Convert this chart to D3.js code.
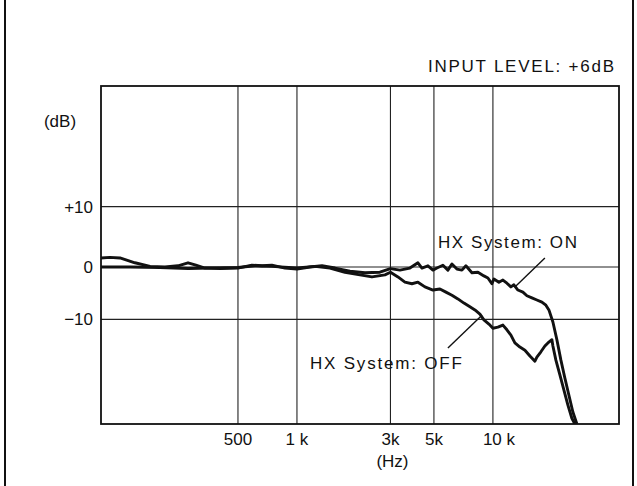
<!DOCTYPE html>
<html>
<head>
<meta charset="utf-8">
<script src="https://cdn.jsdelivr.net/npm/d3@7/dist/d3.min.js"></script>
<style>
  html, body { margin: 0; padding: 0; background: #fff; }
  svg { display: block; }
  text { font-family: "Liberation Sans", Arial, Helvetica, sans-serif; fill: #111; }
</style>
</head>
<body>
<svg id="chart" width="637" height="486"></svg>
<script>
// ---- data ----
const freqTicks = [500, 1000, 3000, 5000, 10000];
const freqTickLabels = ["500", "1 k", "3k", "5k", "10 k"];
const dbTicks = [10, 0, -10];
const dbTickLabels = ["+10", "0", "\u221210"];

const onFreq = [100,111,125,149,178,212,247,278,305,339,405,500,589,663,745,869,1000,1165,1342,1563,1864,2223,2651,3000,3354,3771,4143,4343,4660,4943,5180,5558,5893,6177,6551,6948,7282,7815,8385,8995,9430,9883,10118,10730,11246,11787,12354,12797,13415,14225,14913,15812,16766,17783,18637,19310,20237,21208,22230,23290,24425,25590,26830];
const onDb   = [1.5,1.6,1.5,0.7,0.1,0,0.2,0.7,0.3,-0.2,-0.3,-0.2,0.3,0.2,0.3,-0.2,-0.4,0,0.2,-0.2,-0.8,-1.1,-1.0,-0.3,-0.6,-0.2,0.7,-0.2,0.2,-0.6,-0.2,0.3,-0.6,0.5,-0.4,-0.6,0.2,-1.1,-1.0,-1.7,-2.1,-3.2,-2.3,-2.9,-2.5,-3.1,-3.8,-3.4,-4.4,-4.8,-5.5,-5.9,-6.3,-6.7,-7.3,-8.2,-10.5,-13.9,-17.8,-21.2,-24.5,-27.7,-30];

const offFreq = [100,141,200,278,360,500,611,745,1000,1236,1473,1758,2096,2414,2812,3000,3276,3556,3861,4143,4498,4943,5365,5757,6177,6628,7113,7632,8095,8584,8995,9541,10000,10605,11246,11787,12354,12948,13733,14567,15448,16380,16766,17575,18420,19084,20000,20237,20960,21970,23020,24140,25290,26190];
const offDb   = [0,0,-0.1,-0.3,-0.2,-0.1,0.2,0.1,-0.2,0.1,-0.2,-1.0,-1.5,-1.9,-1.5,-1.0,-1.9,-2.9,-3.2,-2.9,-3.8,-4.4,-4.2,-4.8,-5.4,-6.1,-6.9,-7.6,-8.2,-9.0,-10.1,-10.9,-11.7,-11.5,-11.1,-12.0,-13.0,-14.5,-15.3,-15.9,-17.0,-18.0,-17.2,-16.2,-15.1,-14.5,-13.9,-15.1,-17.8,-20.6,-23.5,-26.4,-28.9,-30];

// annotations (data units)
const onLabel = { text: "HX System: ON", f: 5240, db: 3.15 };
const onLeader = [[18420, 1.5], [12948, -3.8]];
const offLabel = { text: "HX System: OFF", f: 6948, db: -19.5 };
const offLeader = [[5893, -15.5], [8790, -9.2]];

// ---- drawing ----
const svg = d3.select("#chart");
const x = d3.scaleLog().domain([100, 44000]).range([101, 619]);
const y = d3.scaleLinear().domain([-30, 0, 30]).range([424, 267, 86]);

// outer frame lines
svg.append("line").attr("x1", 5).attr("x2", 5).attr("y1", 0).attr("y2", 486)
  .attr("stroke", "#111").attr("stroke-width", 2);
svg.append("line").attr("x1", 633).attr("x2", 633).attr("y1", 0).attr("y2", 486)
  .attr("stroke", "#111").attr("stroke-width", 2);

const [x0, x1] = x.range();
const [yb, yt] = [y(-30), y(30)];

// grid
svg.append("g").selectAll("line").data(freqTicks).join("line")
  .attr("x1", d => x(d)).attr("x2", d => x(d))
  .attr("y1", yt).attr("y2", yb)
  .attr("stroke", "#222").attr("stroke-width", 1.1);
svg.append("g").selectAll("line").data(dbTicks).join("line")
  .attr("x1", x0).attr("x2", x1)
  .attr("y1", d => y(d)).attr("y2", d => y(d))
  .attr("stroke", "#222").attr("stroke-width", 1.1);

// plot frame
svg.append("rect").attr("x", x0).attr("y", yt).attr("width", x1 - x0).attr("height", yb - yt)
  .attr("fill", "none").attr("stroke", "#111").attr("stroke-width", 1.8);

// clip
svg.append("clipPath").attr("id", "clip").append("rect")
  .attr("x", x0).attr("y", yt).attr("width", x1 - x0).attr("height", yb - yt);

const line = d3.line().x(d => x(d[0])).y(d => y(d[1])).curve(d3.curveLinear);
const onData = onFreq.map((f, i) => [f, onDb[i]]);
const offData = offFreq.map((f, i) => [f, offDb[i]]);

svg.append("path").datum(offData).attr("d", line)
  .attr("fill", "none").attr("stroke", "#111").attr("stroke-width", 2.9)
  .attr("stroke-linejoin", "round").attr("clip-path", "url(#clip)");
svg.append("path").datum(onData).attr("d", line)
  .attr("fill", "none").attr("stroke", "#111").attr("stroke-width", 2.9)
  .attr("stroke-linejoin", "round").attr("clip-path", "url(#clip)");

// x tick labels
svg.append("g").selectAll("text").data(freqTicks).join("text")
  .attr("x", d => x(d)).attr("y", 445)
  .attr("text-anchor", (d, i) => i === 4 ? "start" : "middle")
  .attr("dx", (d, i) => i === 4 ? -10 : 0)
  .attr("font-size", 17)
  .text((d, i) => freqTickLabels[i]);
svg.append("text").attr("x", x(3000) + 2).attr("y", 467).attr("text-anchor", "middle")
  .attr("font-size", 17).text("(Hz)");

// y tick labels
svg.append("g").selectAll("text").data(dbTicks).join("text")
  .attr("x", 93).attr("y", d => y(d)).attr("dy", "0.36em")
  .attr("text-anchor", "end").attr("font-size", 17)
  .text((d, i) => dbTickLabels[i]);
svg.append("text").attr("x", 60).attr("y", 127).attr("text-anchor", "middle")
  .attr("font-size", 17).text("(dB)");

// title
svg.append("text").attr("x", 428).attr("y", 72).attr("font-size", 17)
  .attr("textLength", 186).attr("lengthAdjust", "spacing")
  .text("INPUT LEVEL: +6dB");

// annotations
svg.append("text").attr("x", x(onLabel.f)).attr("y", y(onLabel.db))
  .attr("font-size", 17).attr("textLength", 139).attr("lengthAdjust", "spacing")
  .text(onLabel.text);
svg.append("line")
  .attr("x1", x(onLeader[0][0])).attr("y1", y(onLeader[0][1]))
  .attr("x2", x(onLeader[1][0])).attr("y2", y(onLeader[1][1]))
  .attr("stroke", "#111").attr("stroke-width", 1.4);
svg.append("text").attr("x", x(offLabel.f)).attr("y", y(offLabel.db))
  .attr("text-anchor", "end")
  .attr("font-size", 17).attr("textLength", 152).attr("lengthAdjust", "spacing")
  .text(offLabel.text);
svg.append("line")
  .attr("x1", x(offLeader[0][0])).attr("y1", y(offLeader[0][1]))
  .attr("x2", x(offLeader[1][0])).attr("y2", y(offLeader[1][1]))
  .attr("stroke", "#111").attr("stroke-width", 1.4);
</script>
</body>
</html>
